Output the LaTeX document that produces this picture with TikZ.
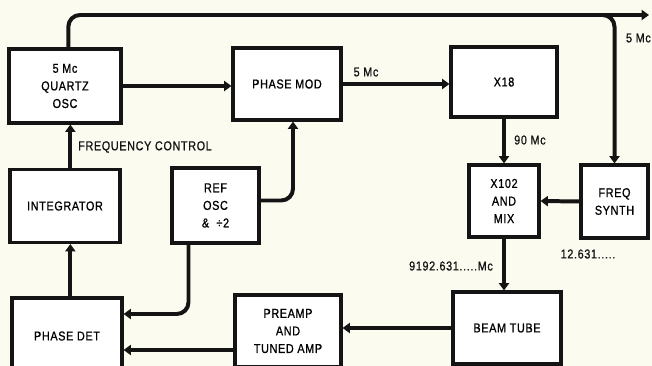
\documentclass[tikz,border=0pt]{standalone}
\usepackage{fontspec}
\setmainfont{Liberation Sans}[FakeStretch=0.84, FakeBold=0.9, LetterSpace=5]
\usepackage{tikz}
\usetikzlibrary{arrows.meta,positioning,calc}
\definecolor{paper}{RGB}{251,251,240}
\definecolor{ink}{RGB}{20,20,20}

\begin{document}
\begin{tikzpicture}[x=0.3mm, y=-0.3mm,
    blk/.style={draw=ink, line width=2.6pt, fill=white, align=center,
        font=\fontsize{11}{15}\selectfont, inner sep=0pt},
    sig/.style={draw=ink, line width=3.4pt, -{Triangle[length=2.2mm,width=3mm]}},
    lbl/.style={font=\fontsize{11}{12}\selectfont, text=ink, inner sep=0pt}]
    % page
    \fill[paper] (0,0) rectangle (652,366);
    \clip (0,0) rectangle (652,366);

    % top row
    \node[blk, minimum width=33.6mm, minimum height=22.2mm] (quartz) at (65,86) {5 Mc\\QUARTZ\\OSC};
    \node[blk, minimum width=32.4mm, minimum height=21.6mm] (pmod) at (287,84) {PHASE MOD};
    \node[blk, minimum width=31.8mm, minimum height=21mm] (mult) at (504,82) {X18};

    % middle row
    \node[blk, minimum width=33mm, minimum height=21.9mm] (integ) at (65,206) {INTEGRATOR};
    \node[blk, minimum width=26.1mm, minimum height=22.5mm] (refosc) at (215.5,205.5) {REF\\OSC\\\& \ ÷2};
    \node[blk, minimum width=21mm, minimum height=21.6mm] (mix) at (504,201) {X102\\AND\\MIX};
    \node[blk, minimum width=20.1mm, minimum height=21.9mm] (synth) at (614.5,201.5) {FREQ\\SYNTH};

    % bottom row
    \node[blk, minimum width=33mm, minimum height=22.8mm] (pdet) at (67,336) {PHASE DET};
    \node[blk, minimum width=31.8mm, minimum height=21.6mm] (preamp) at (288,331) {PREAMP\\AND\\TUNED AMP};
    \node[blk, minimum width=32.4mm, minimum height=21.6mm] (tube) at (507,328) {BEAM TUBE};

    % 5 Mc bus
    \coordinate (out) at (649,15);
    \draw[sig, rounded corners=10] ([xshift=1mm]quartz.north) |- (out);
    \draw[sig, rounded corners=10] ([xshift=-8mm]synth.north |- out) -| (synth.north);

    % forward chain
    \draw[sig] (quartz.east) -- (quartz.east -| pmod.west);
    \draw[sig] (pmod.east) -- (pmod.east -| mult.west);
    \draw[sig] (mult.south) -- (mix.north);
    \draw[sig] (synth.west) -- (mix.east);
    \draw[sig] (mix.south) -- (mix.south |- tube.north);
    \draw[sig] (tube.west) -- (tube.west -| preamp.east);
    \draw[sig] ([yshift=-5.7mm]preamp.west) -- ([yshift=-5.7mm]preamp.west -| pdet.east);

    % loop
    \draw[sig] ([xshift=1mm]pdet.north) -- ([xshift=1mm]pdet.north |- integ.south);
    \draw[sig] ([xshift=1.6mm]integ.north) -- ([xshift=1.6mm]integ.north |- quartz.south);
    \draw[sig, rounded corners=10] ([yshift=1.5mm]refosc.east) -| ([xshift=1.8mm]pmod.south);
    \draw[sig, rounded corners=10] ([xshift=-8.1mm]refosc.south) |- ([yshift=6.6mm]pdet.east);

    % labels
    \node[lbl, anchor=west] (fc) at (78,147) {FREQUENCY CONTROL};
    \node[lbl] (f5) at (366,72) {5 Mc};
    \node[lbl, anchor=west] (f90) at (514,140) {90 Mc};
    \node[lbl, anchor=east] (fbus) at (651,38) {5 Mc};
    \node[lbl] (fcs) at (451,266) {9192.631.....Mc};
    \node[lbl] (fsyn) at (588,254) {12.631.....};
\end{tikzpicture}
\end{document}
